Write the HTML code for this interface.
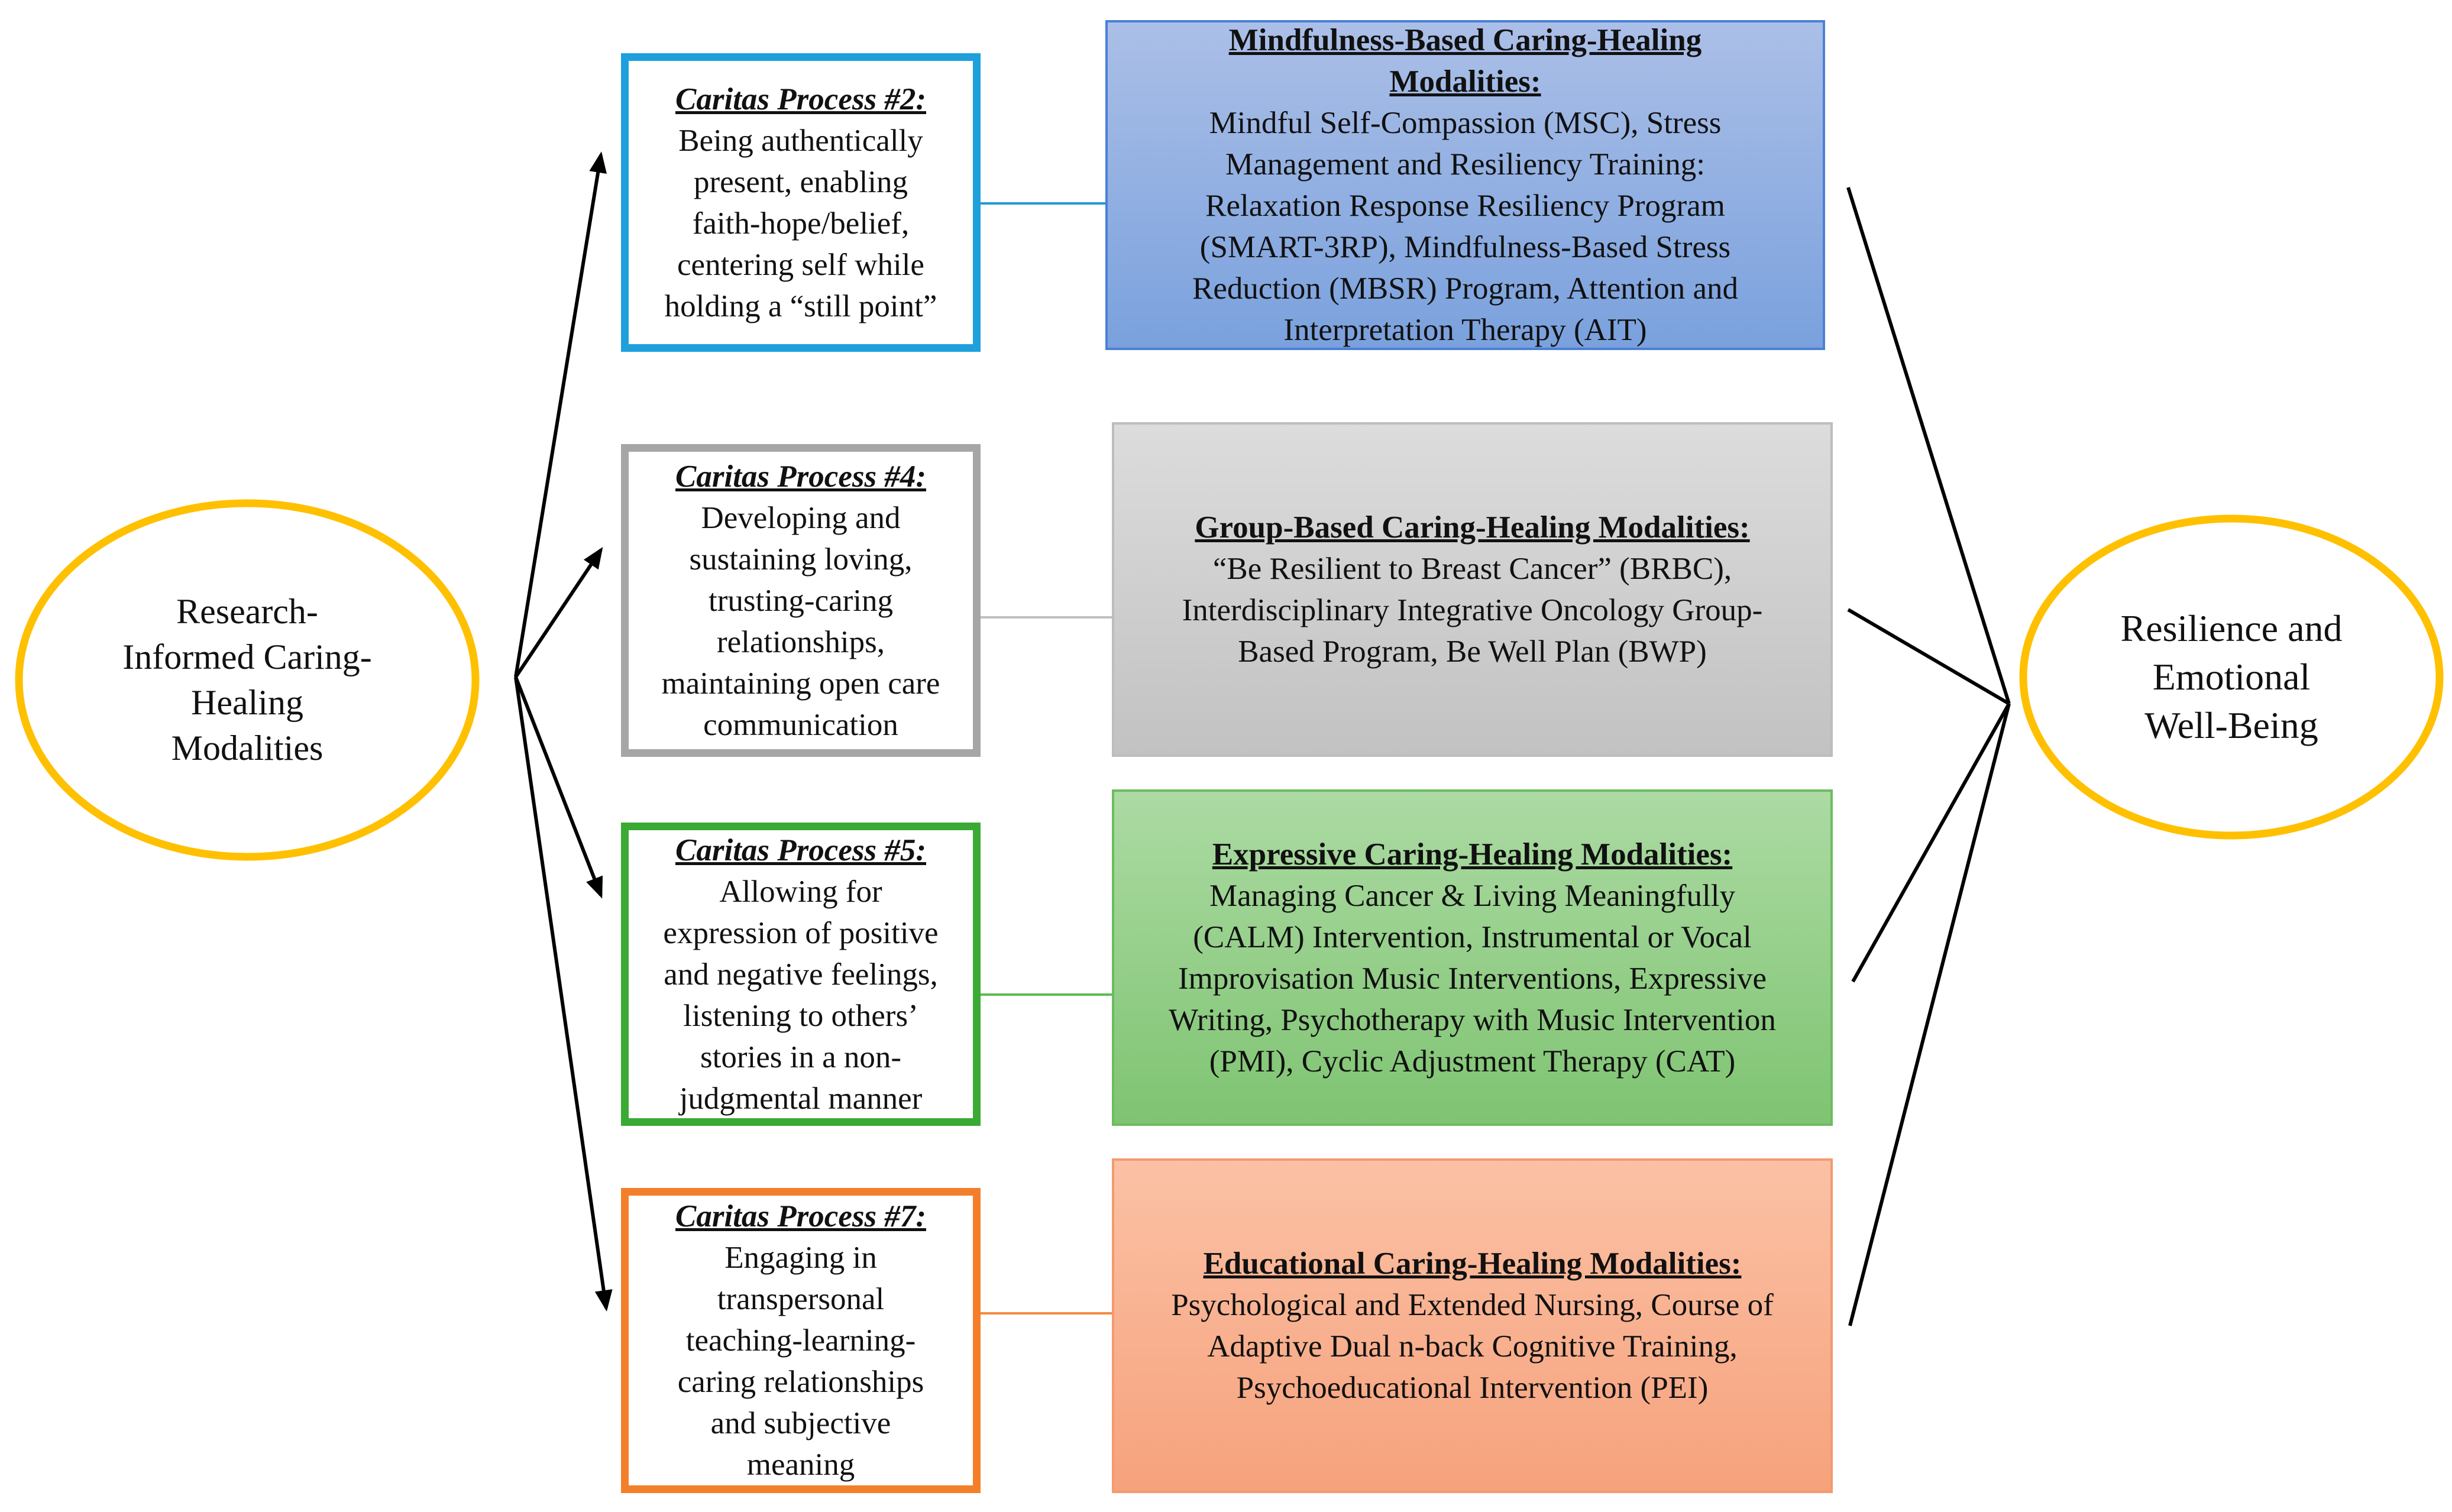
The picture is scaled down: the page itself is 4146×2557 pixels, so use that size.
<!DOCTYPE html>
<html><head><meta charset="utf-8"><style>
html,body{margin:0;padding:0;background:#fff}
#c{position:relative;width:4146px;height:2557px;overflow:hidden;font-family:"Liberation Serif","Times New Roman",Times,serif;color:#111}
.b{position:absolute;box-sizing:border-box;display:flex;align-items:center;justify-content:center;text-align:center;font-size:53px;line-height:70px}
.b div{width:100%}
.t{font-weight:bold;text-decoration:underline}
.i{font-style:italic;font-weight:bold;text-decoration:underline}
svg{position:absolute;left:0;top:0}
</style></head><body><div id="c">
<svg width="4146" height="2557">
<defs><marker id="a" markerWidth="6" markerHeight="5" refX="5" refY="2.5" orient="auto" markerUnits="strokeWidth"><path d="M0,0 L6,2.5 L0,5 z" fill="#000"/></marker></defs>
<ellipse cx="418" cy="1150" rx="386" ry="299" fill="#fff" stroke="#ffc000" stroke-width="13"/>
<ellipse cx="3773" cy="1145" rx="352" ry="268" fill="#fff" stroke="#ffc000" stroke-width="13"/>
<g stroke="#000" stroke-width="6" fill="none">
<line x1="872" y1="1145" x2="1016" y2="262" marker-end="url(#a)"/>
<line x1="872" y1="1145" x2="1016" y2="930" marker-end="url(#a)"/>
<line x1="872" y1="1145" x2="1016" y2="1514" marker-end="url(#a)"/>
<line x1="872" y1="1145" x2="1025" y2="2212" marker-end="url(#a)"/>
<line x1="3125" y1="317" x2="3397" y2="1190"/>
<line x1="3125" y1="1031" x2="3397" y2="1190"/>
<line x1="3133" y1="1660" x2="3397" y2="1190"/>
<line x1="3128" y1="2242" x2="3397" y2="1190"/>
</g>
<line x1="1658" y1="344" x2="1869" y2="344" stroke="#1e9bd7" stroke-width="4"/>
<line x1="1658" y1="1044" x2="1880" y2="1044" stroke="#bfbfbf" stroke-width="4"/>
<line x1="1658" y1="1682" x2="1880" y2="1682" stroke="#5bbb4f" stroke-width="4"/>
<line x1="1658" y1="2221" x2="1880" y2="2221" stroke="#f48b3f" stroke-width="4"/>
</svg>
<div class="b" style="left:20px;top:851px;width:796px;height:598px;font-size:60px;line-height:77px"><div>Research-<br>Informed Caring-<br>Healing<br>Modalities</div></div>
<div class="b" style="left:3421px;top:877px;width:704px;height:536px;font-size:64px;line-height:82px"><div>Resilience and<br>Emotional<br>Well-Being</div></div>

<div class="b" style="left:1050px;top:90px;width:608px;height:505px;border:13px solid #1ea0dc;background:#fff"><div><span class="i">Caritas Process #2:</span><br>Being authentically<br>present, enabling<br>faith-hope/belief,<br>centering self while<br>holding a “still point”</div></div>
<div class="b" style="left:1050px;top:751px;width:608px;height:529px;border:13px solid #a6a6a6;background:#fff"><div><span class="i">Caritas Process #4:</span><br>Developing and<br>sustaining loving,<br>trusting-caring<br>relationships,<br>maintaining open care<br>communication</div></div>
<div class="b" style="left:1050px;top:1391px;width:608px;height:513px;border:13px solid #3aaa35;background:#fff"><div><span class="i">Caritas Process #5:</span><br>Allowing for<br>expression of positive<br>and negative feelings,<br>listening to others’<br>stories in a non-<br>judgmental manner</div></div>
<div class="b" style="left:1050px;top:2009px;width:608px;height:516px;border:13px solid #f47f2a;background:#fff"><div><span class="i">Caritas Process #7:</span><br>Engaging in<br>transpersonal<br>teaching-learning-<br>caring relationships<br>and subjective<br>meaning</div></div>

<div class="b" style="left:1869px;top:34px;width:1217px;height:558px;border:4px solid #4a80d6;background:linear-gradient(#abbfe7,#7aa1dd)"><div><span class="t">Mindfulness-Based Caring-Healing<br>Modalities:</span><br>Mindful Self-Compassion (MSC), Stress<br>Management and Resiliency Training:<br>Relaxation Response Resiliency Program<br>(SMART-3RP), Mindfulness-Based Stress<br>Reduction (MBSR) Program, Attention and<br>Interpretation Therapy (AIT)</div></div>
<div class="b" style="left:1880px;top:714px;width:1219px;height:566px;border:4px solid #bdbdbd;background:linear-gradient(#dcdcdc,#c2c2c2)"><div><span class="t">Group-Based Caring-Healing Modalities:</span><br>“Be Resilient to Breast Cancer” (BRBC),<br>Interdisciplinary Integrative Oncology Group-<br>Based Program, Be Well Plan (BWP)</div></div>
<div class="b" style="left:1880px;top:1335px;width:1219px;height:569px;border:4px solid #6cbc5f;background:linear-gradient(#acdaa3,#7fc472)"><div><span class="t">Expressive Caring-Healing Modalities:</span><br>Managing Cancer &amp; Living Meaningfully<br>(CALM) Intervention, Instrumental or Vocal<br>Improvisation Music Interventions, Expressive<br>Writing, Psychotherapy with Music Intervention<br>(PMI), Cyclic Adjustment Therapy (CAT)</div></div>
<div class="b" style="left:1880px;top:1959px;width:1219px;height:566px;border:4px solid #f39a70;background:linear-gradient(#fbc1a5,#f6a27c)"><div><span class="t">Educational Caring-Healing Modalities:</span><br>Psychological and Extended Nursing, Course of<br>Adaptive Dual n-back Cognitive Training,<br>Psychoeducational Intervention (PEI)</div></div>
</div></body></html>
